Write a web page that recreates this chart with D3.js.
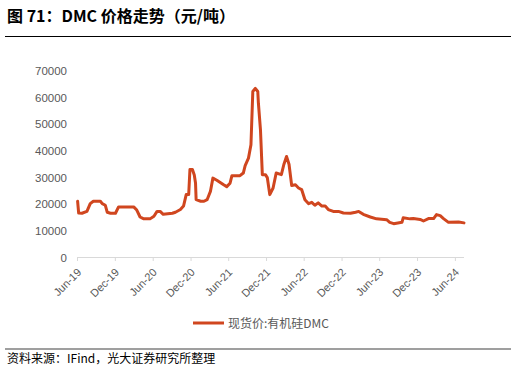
<!DOCTYPE html>
<html>
<head>
<meta charset="utf-8">
<script src="https://cdn.jsdelivr.net/npm/d3@7"></script>
<style>
  body { margin: 0; background: #fff; }
  svg { display: block; }
</style>
</head>
<body>
<svg id="chart"></svg>
<script>
// DMC spot price, yuan per tonne
const dates = [
  "2019-06-04","2019-06-09","2019-06-25","2019-07-19","2019-08-04","2019-08-19","2019-09-22","2019-10-01",
  "2019-10-16","2019-10-25","2019-11-10","2019-12-04","2019-12-19","2020-03-01","2020-03-16","2020-04-01",
  "2020-04-19","2020-05-19","2020-06-07","2020-06-22","2020-07-07","2020-07-22","2020-09-04","2020-09-19",
  "2020-10-13","2020-10-28","2020-11-10","2020-11-22","2020-11-28","2020-12-10","2020-12-19","2020-12-25",
  "2020-12-28","2021-01-19","2021-02-04","2021-02-19","2021-03-07","2021-03-19","2021-04-07","2021-05-10",
  "2021-05-25","2021-06-10","2021-06-19","2021-07-28","2021-08-13","2021-08-22","2021-09-07","2021-09-19",
  "2021-09-28","2021-10-10","2021-10-22","2021-10-25","2021-11-04","2021-11-13","2021-11-28","2021-12-07",
  "2021-12-19","2022-01-04","2022-01-19","2022-02-13","2022-02-25","2022-03-10","2022-03-22","2022-04-04",
  "2022-04-22","2022-05-07","2022-05-22","2022-06-07","2022-06-25","2022-07-10","2022-07-25","2022-08-10",
  "2022-08-28","2022-09-13","2022-09-28","2022-10-22","2022-11-16","2022-12-10","2023-01-13","2023-02-07",
  "2023-02-22","2023-03-16","2023-04-19","2023-05-19","2023-07-07","2023-07-22","2023-08-10","2023-09-19",
  "2023-09-25","2023-10-28","2023-11-13","2023-12-16","2024-01-01","2024-01-25","2024-02-19","2024-03-04",
  "2024-03-22","2024-04-07","2024-05-01","2024-06-19","2024-07-15"
];
const prices = [
  21100,16700,16600,17300,20200,21100,21100,20200,
  19600,17000,16600,16600,19000,19000,17800,15200,
  14500,14500,15500,17300,17300,16200,16600,17000,
  18000,19300,23600,23600,33000,33000,31000,28000,
  21700,21100,21100,21700,24800,29800,29000,27300,
  26600,27900,30700,30700,31700,34500,37300,42300,
  62300,63500,62300,57900,47900,31100,31100,30000,
  23600,26100,31700,31100,34900,37900,35000,27000,
  27300,26100,25500,21700,20200,20700,19600,20500,
  19300,19300,18000,17300,17300,16700,16600,17000,
  17300,16200,15200,14500,14200,13200,12700,13200,
  14900,14500,14600,14300,13700,14600,14600,16100,
  15700,14600,13200,13300,13000
];
const yTicks = [0, 10000, 20000, 30000, 40000, 50000, 60000, 70000];
const xTickDates = ["2019-06-01","2019-12-01","2020-06-01","2020-12-01","2021-06-01","2021-12-01",
  "2022-06-01","2022-12-01","2023-06-01","2023-12-01","2024-06-01"];
const title = "图 71：DMC 价格走势（元/吨）";
const seriesName = "现货价:有机硅DMC";
const source = "资料来源：IFind，光大证券研究所整理";

const W = 516, H = 370;
const lineColor = "#d0461f";
const textColor = "#595959";
const parse = d3.timeParse("%Y-%m-%d");
const data = dates.map((d, i) => ({ date: parse(d), value: prices[i] }));

const svg = d3.select("#chart").attr("width", W).attr("height", H);

// header
svg.append("text")
  .attr("x", 7).attr("y", 22)
  .attr("font-family", "'Noto Sans CJK SC', sans-serif")
  .attr("font-weight", "bold").attr("font-size", 16)
  .attr("fill", "#000")
  .text(title);
svg.append("line")
  .attr("x1", 5).attr("x2", 511).attr("y1", 36.5).attr("y2", 36.5)
  .attr("stroke", "#000").attr("stroke-width", 1);

const x = d3.scaleTime()
  .domain([parse("2019-06-01"), parse("2024-07-15")])
  .range([77, 464]);
const y = d3.scaleLinear()
  .domain([0, 70000])
  .range([257.5, 71]);

// y axis (labels only)
svg.append("g")
  .attr("transform", "translate(77,0)")
  .call(d3.axisLeft(y).tickValues(yTicks).tickSize(0).tickPadding(10).tickFormat(d3.format("d")))
  .call(g => g.select(".domain").remove())
  .selectAll("text")
    .attr("font-family", "'Liberation Sans', Arial, sans-serif")
    .attr("font-size", 11.5)
    .attr("fill", textColor);

// x axis
const xAxis = svg.append("g")
  .attr("transform", "translate(0,257)")
  .call(d3.axisBottom(x).tickValues(xTickDates.map(parse)).tickSize(4).tickFormat(d3.timeFormat("%b-%y")));
xAxis.select(".domain").attr("stroke", "#d9d9d9").attr("d", "M77,0.5H464");
xAxis.selectAll(".tick line").attr("stroke", "#d9d9d9");
xAxis.selectAll("text")
  .attr("font-family", "'Liberation Sans', Arial, sans-serif")
  .attr("font-size", 11)
  .attr("fill", textColor)
  .attr("text-anchor", "end")
  .attr("y", 0)
  .attr("dy", 0)
  .attr("transform", "translate(4.5,16) rotate(-45)");

// price line
svg.append("path")
  .datum(data)
  .attr("fill", "none")
  .attr("stroke", lineColor)
  .attr("stroke-width", 3)
  .attr("stroke-linejoin", "round")
  .attr("stroke-linecap", "round")
  .attr("d", d3.line().x(d => x(d.date)).y(d => y(d.value)));

// legend
const lg = svg.append("g").attr("transform", "translate(193,323)");
lg.append("line").attr("x1", 0).attr("x2", 31).attr("stroke", lineColor).attr("stroke-width", 3);
lg.append("text")
  .attr("x", 35).attr("y", 4.5)
  .attr("font-family", "'Noto Sans CJK SC', sans-serif")
  .attr("font-size", 12)
  .attr("fill", textColor)
  .text(seriesName);

// footer
svg.append("line")
  .attr("x1", 5).attr("x2", 511).attr("y1", 349).attr("y2", 349)
  .attr("stroke", "#404040").attr("stroke-width", 1.2);
svg.append("text")
  .attr("x", 7).attr("y", 363)
  .attr("font-family", "'Noto Sans CJK SC', sans-serif")
  .attr("font-size", 12)
  .attr("fill", "#000")
  .text(source);
</script>
</body>
</html>
